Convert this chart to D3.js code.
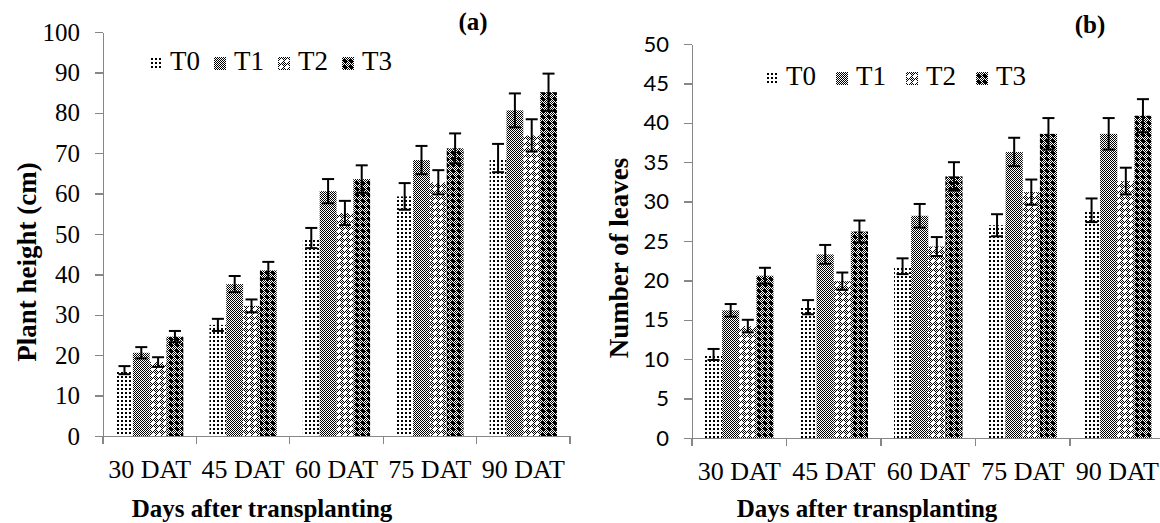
<!DOCTYPE html>
<html>
<head>
<meta charset="utf-8">
<script src="https://cdn.jsdelivr.net/npm/d3@7"></script>
<style>
  body { margin: 0; background: #fff; }
  text { font-family: "Liberation Serif", "Times New Roman", serif; fill: #000; }
  .axis path, .axis line { stroke: #878787; stroke-width: 1.3; shape-rendering: crispEdges; }
  .axis-title { font-weight: bold; }
</style>
</head>
<body>
<div id="chart"></div>
<script>
// categories and series
const categories = ["30 DAT", "45 DAT", "60 DAT", "75 DAT", "90 DAT"];
const treatments = ["T0", "T1", "T2", "T3"];

// tick labels
const heightTicks = [0, 10, 20, 30, 40, 50, 60, 70, 80, 90, 100];
const leavesTicks = [0, 5, 10, 15, 20, 25, 30, 35, 40, 45, 50];

// (a) plant height (cm), one row per treatment
const heightT0 = [16.3, 27.5, 49.0, 59.3, 68.8];
const heightT1 = [20.6, 37.6, 60.6, 68.3, 80.6];
const heightT2 = [18.3, 32.2, 55.2, 62.8, 74.4];
const heightT3 = [24.6, 41.0, 63.6, 71.2, 85.1];
const heightErrT0 = [1.0, 1.5, 2.5, 3.3, 3.5];
const heightErrT1 = [1.4, 2.0, 3.0, 3.5, 4.2];
const heightErrT2 = [1.2, 1.6, 3.0, 3.0, 4.0];
const heightErrT3 = [1.4, 2.1, 3.4, 3.7, 4.6];

// (b) number of leaves
const leavesT0 = [10.6, 16.6, 21.8, 27.0, 28.9];
const leavesT1 = [16.2, 23.3, 28.2, 36.3, 38.6];
const leavesT2 = [14.2, 19.9, 24.3, 31.2, 32.6];
const leavesT3 = [20.6, 26.2, 33.2, 38.6, 40.9];
const leavesErrT0 = [0.7, 0.9, 1.0, 1.4, 1.5];
const leavesErrT1 = [0.8, 1.2, 1.5, 1.8, 2.0];
const leavesErrT2 = [0.8, 1.1, 1.2, 1.6, 1.7];
const leavesErrT3 = [1.0, 1.4, 1.8, 2.0, 2.1];

const W = 1160, H = 523;

const svg = d3.select("#chart")
    .append("svg")
    .attr("width", W)
    .attr("height", H);

// fill patterns, one per treatment
const defs = svg.append("defs");

function pattern(id, size, cell) {
    const p = defs.append("pattern")
        .attr("id", id)
        .attr("patternUnits", "userSpaceOnUse")
        .attr("width", size)
        .attr("height", size);
    p.append("rect").attr("width", size).attr("height", size).attr("fill", "#fff");
    for (let x = 0; x < size; x++) {
        for (let y = 0; y < size; y++) {
            if (cell(x, y)) {
                p.append("rect")
                    .attr("x", x).attr("y", y)
                    .attr("width", 1).attr("height", 1)
                    .attr("fill", "#000")
                    .attr("shape-rendering", "crispEdges");
            }
        }
    }
}

const plus = (x, y) => (x >= 2 && x <= 3 && y >= 1 && y <= 4) || (y >= 2 && y <= 3 && x >= 1 && x <= 4);

pattern("pT0", 4, (x, y) => x >= 1 && x <= 2 && y <= 1);
pattern("pT1", 2, (x, y) => (x + y) % 2 === 0);
pattern("pT2", 6, (x, y) => !plus(x, y) && (x + y) % 2 === 0);
pattern("pT3", 6, (x, y) => plus(x, y) || (x + y) % 2 === 0);

function drawPanel(cfg) {
    const g = svg.append("g");

    const x = d3.scaleBand()
        .domain(categories)
        .range([cfg.left, cfg.right])
        .paddingInner(cfg.pad)
        .paddingOuter(cfg.pad / 2);

    const xAxisScale = d3.scaleBand()
        .domain(categories)
        .range([cfg.left, cfg.right]);

    const xSub = d3.scaleBand()
        .domain(treatments)
        .range([0, x.bandwidth()]);

    const y = d3.scaleLinear()
        .domain([0, d3.max(cfg.ticks)])
        .range([cfg.bottom, cfg.top]);

    // y axis
    const yAxis = g.append("g")
        .attr("class", "axis")
        .attr("transform", `translate(${cfg.left},0)`)
        .call(d3.axisLeft(y)
            .tickValues(cfg.ticks)
            .tickSizeInner(8)
            .tickSizeOuter(0)
            .tickPadding(15));
    yAxis.selectAll("text")
        .style("font-family", cfg.tickFont)
        .style("font-size", cfg.tickSize + "px")
        .attr("fill", "#000");

    // x axis, ticks on category boundaries
    const xAxis = g.append("g")
        .attr("class", "axis")
        .attr("transform", `translate(0,${cfg.bottom})`)
        .call(d3.axisBottom(xAxisScale).tickSize(0).tickPadding(cfg.labelPad));
    xAxis.selectAll("text")
        .style("font-size", "26px")
        .attr("fill", "#000");
    xAxis.selectAll(".bound")
        .data(categories.map(c => xAxisScale(c)).concat([cfg.right]))
        .join("line")
        .attr("class", "bound")
        .attr("x1", d => d).attr("x2", d => d)
        .attr("y1", 0).attr("y2", 8);

    // bars
    const seriesG = g.append("g")
        .selectAll("g")
        .data(treatments)
        .join("g")
        .attr("fill", t => `url(#p${t})`);

    seriesG.selectAll("rect")
        .data((t, i) => categories.map((c, j) => ({ t, c, v: cfg.means[i][j], e: cfg.errs[i][j] })))
        .join("rect")
        .attr("x", d => x(d.c) + xSub(d.t))
        .attr("y", d => y(d.v))
        .attr("width", xSub.bandwidth())
        .attr("height", d => y(0) - y(d.v));

    // error bars
    const errs = treatments.flatMap((t, i) =>
        categories.map((c, j) => ({ t, c, v: cfg.means[i][j], e: cfg.errs[i][j] })));
    const eb = g.append("g")
        .attr("stroke", "#000")
        .attr("stroke-width", 2)
        .selectAll("g")
        .data(errs)
        .join("g")
        .attr("transform", d => `translate(${x(d.c) + xSub(d.t) + xSub.bandwidth() / 2},0)`);
    eb.append("line")
        .attr("y1", d => y(d.v - d.e)).attr("y2", d => y(d.v + d.e));
    eb.append("line")
        .attr("x1", -6).attr("x2", 6)
        .attr("y1", d => y(d.v + d.e)).attr("y2", d => y(d.v + d.e));
    eb.append("line")
        .attr("x1", -6).attr("x2", 6)
        .attr("y1", d => y(d.v - d.e)).attr("y2", d => y(d.v - d.e));

    // legend
    const leg = g.append("g")
        .selectAll("g")
        .data(treatments)
        .join("g")
        .attr("transform", (t, i) => `translate(${cfg.legendX + i * cfg.legendStep},${cfg.legendY})`);
    leg.append("rect")
        .attr("x", 0).attr("y", -13)
        .attr("width", 12).attr("height", 13)
        .attr("fill", t => `url(#p${t})`);
    leg.append("text")
        .attr("x", 20)
        .attr("y", 0)
        .style("font-size", "27px")
        .text(t => t);

    // panel tag
    g.append("text")
        .attr("class", "axis-title")
        .attr("x", cfg.tagX)
        .attr("y", cfg.tagY)
        .attr("text-anchor", "middle")
        .style("font-size", "25px")
        .text(cfg.tag);

    // axis titles
    g.append("text")
        .attr("class", "axis-title")
        .attr("x", cfg.xTitleX)
        .attr("y", cfg.xTitleY)
        .attr("text-anchor", "middle")
        .style("font-size", "25px")
        .text("Days after transplanting");

    g.append("text")
        .attr("class", "axis-title")
        .attr("transform", `translate(${cfg.yTitleX},${cfg.yTitleY}) rotate(-90)`)
        .attr("text-anchor", "middle")
        .style("font-size", "27px")
        .text(cfg.yTitle);
}

drawPanel({
    left: 103, right: 570, top: 32, bottom: 436, pad: 0.28,
    ticks: heightTicks,
    means: [heightT0, heightT1, heightT2, heightT3],
    errs: [heightErrT0, heightErrT1, heightErrT2, heightErrT3],
    tickFont: "'Liberation Serif', serif", tickSize: 25, labelPad: 24,
    legendX: 150, legendY: 70, legendStep: 64,
    tag: "(a)", tagX: 473, tagY: 30,
    xTitleX: 262, xTitleY: 517,
    yTitleX: 36, yTitleY: 262,
    yTitle: "Plant height (cm)"
});

drawPanel({
    left: 692, right: 1164.5, top: 44, bottom: 438, pad: 0.275,
    ticks: leavesTicks,
    means: [leavesT0, leavesT1, leavesT2, leavesT3],
    errs: [leavesErrT0, leavesErrT1, leavesErrT2, leavesErrT3],
    tickFont: "Lato, sans-serif", tickSize: 22, labelPad: 24,
    legendX: 766, legendY: 85, legendStep: 70,
    tag: "(b)", tagX: 1090, tagY: 33,
    xTitleX: 867, xTitleY: 517,
    yTitleX: 628, yTitleY: 258,
    yTitle: "Number of leaves"
});
</script>
</body>
</html>
